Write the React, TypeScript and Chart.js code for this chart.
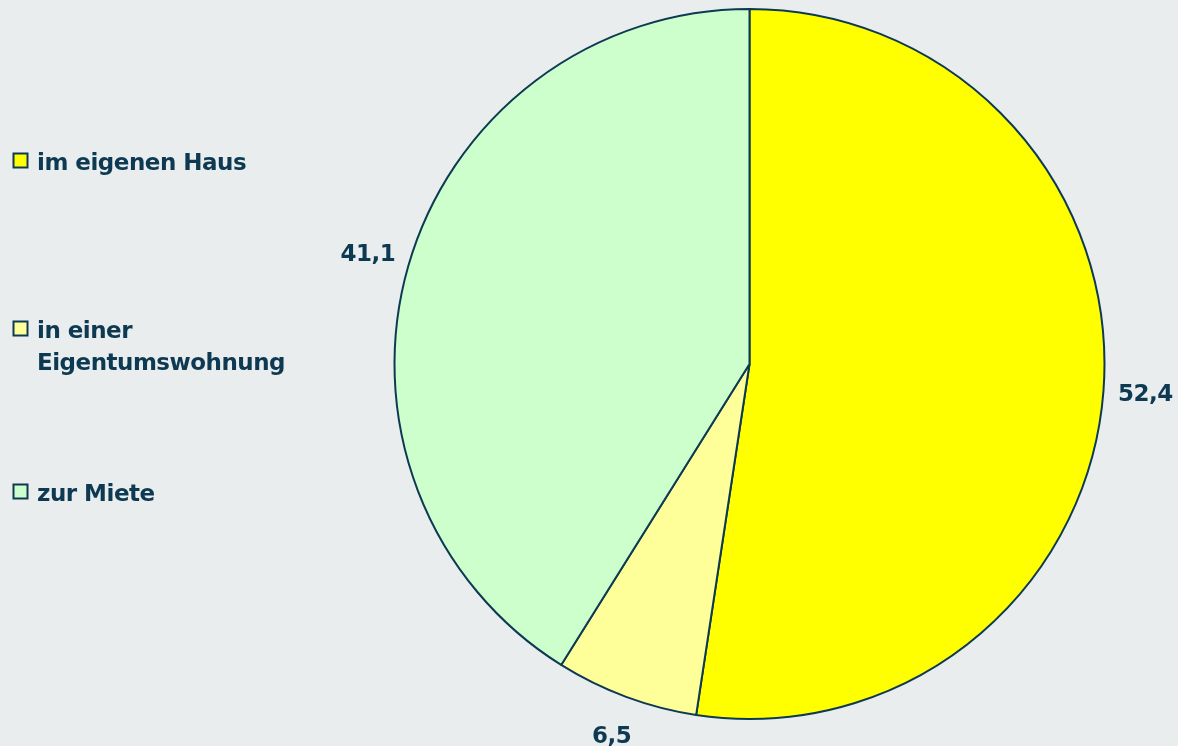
import React, { useEffect, useRef } from "react";
import { Chart, registerables } from "chart.js";

Chart.register(...registerables);

const categories: (string | string[])[] = ["im eigenen Haus", ["in einer", "Eigentumswohnung"], "zur Miete"];
const values: number[] = [52.4, 6.5, 41.1];
const colors: string[] = ["#FFFF00", "#FFFF99", "#CCFFCC"];

const TEXT = "#0D3A52";
const FONT = "bold 23px 'DejaVu Sans', sans-serif";
const legendBaselines = [170, 338, 501];
const LINE_H = 32;

const overlayPlugin = {
  id: "overlay",
  afterDatasetsDraw(chart: any) {
    const ctx = chart.ctx as CanvasRenderingContext2D;
    const meta = chart.getDatasetMeta(0);
    const ds = chart.data.datasets[0];
    ctx.save();
    ctx.font = FONT;
    (ctx as any).letterSpacing = "-0.5px";
    ctx.fillStyle = TEXT;
    // data labels
    meta.data.forEach((arc: any, i: number) => {
      const p = arc.getProps(["x", "y", "startAngle", "endAngle", "outerRadius"], true);
      const mid = (p.startAngle + p.endAngle) / 2;
      const r = p.outerRadius + 42;
      const tx = p.x + Math.cos(mid) * r;
      const ty = p.y + Math.sin(mid) * r + 1;
      ctx.textAlign = "center";
      ctx.textBaseline = "middle";
      const v = ds.data[i] as number;
      ctx.fillText(v.toFixed(1).replace(".", ","), tx, ty);
    });
    // legend
    ctx.textAlign = "left";
    ctx.textBaseline = "alphabetic";
    (chart.data.labels as (string | string[])[]).forEach((lab, i) => {
      const base = legendBaselines[i];
      const bx = 13.5, by = base - 16.5;
      ctx.fillStyle = (ds.backgroundColor as string[])[i];
      ctx.fillRect(bx, by, 14, 14);
      ctx.strokeStyle = TEXT;
      ctx.lineWidth = 2;
      ctx.strokeRect(bx, by, 14, 14);
      ctx.fillStyle = TEXT;
      const lines = Array.isArray(lab) ? lab : [lab];
      lines.forEach((ln, j) => ctx.fillText(ln, 37, base + j * LINE_H));
    });
    ctx.restore();
  },
};

export default function App() {
  const ref = useRef<HTMLCanvasElement>(null);
  useEffect(() => {
    document.body.style.margin = "0";
    document.body.style.background = "#E9EDEE";
    const chart = new Chart(ref.current!, {
      type: "pie",
      data: {
        labels: categories as any,
        datasets: [
          {
            data: values,
            backgroundColor: colors,
            borderColor: TEXT,
            borderWidth: 2,
            borderAlign: "center",
          },
        ],
      },
      options: {
        responsive: false,
        maintainAspectRatio: false,
        animation: false,
        layout: { padding: { left: 393.5, right: 72.5, top: 8, bottom: 26 } },
        plugins: { legend: { display: false }, tooltip: { enabled: false } },
      },
      plugins: [overlayPlugin],
    });
    return () => chart.destroy();
  }, []);
  return (
    <div style={{ width: 1178, height: 746, background: "#E9EDEE" }}>
      <canvas ref={ref} width={1178} height={746} />
    </div>
  );
}
